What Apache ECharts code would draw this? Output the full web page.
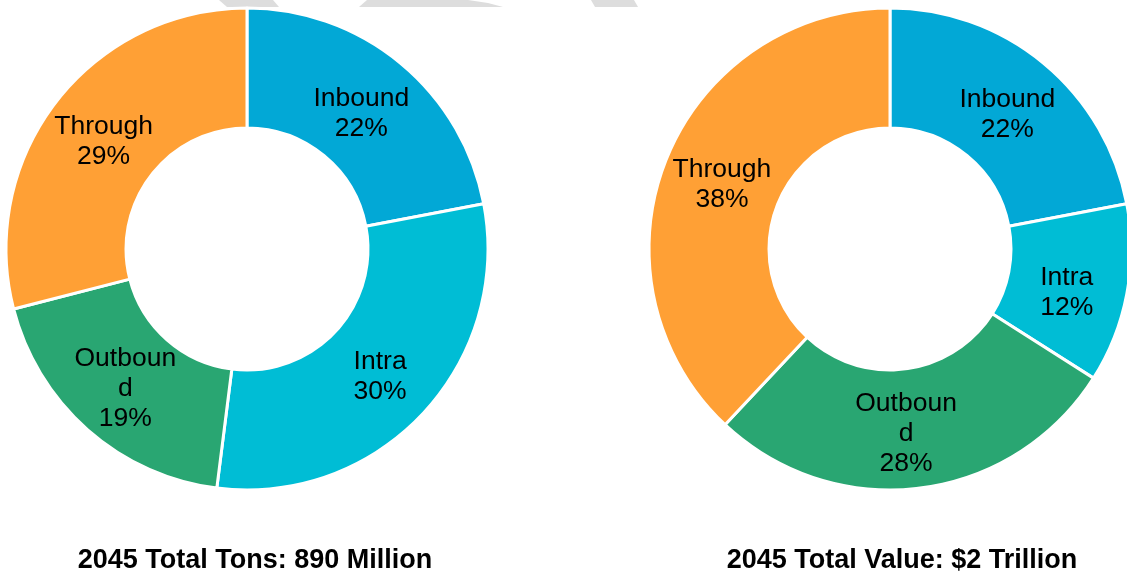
<!DOCTYPE html>
<html>
<head>
<meta charset="utf-8">
<title>2045 Freight Flows</title>
<script src="https://cdn.jsdelivr.net/npm/echarts@6/dist/echarts.min.js"></script>
<style>
  html, body { margin: 0; padding: 0; background: #ffffff; }
  #chart { width: 1127px; height: 574px; }
</style>
</head>
<body>
<div id="chart"></div>
<script>
// Flow categories and their shares (%) for the two 2045 rings
const categories = ['Inbound', 'Intra', 'Outbound', 'Through'];
const tonsShare = [22, 30, 19, 29];
const valueShare = [22, 12, 28, 38];
const titles = ['2045 Total Tons: 890 Million', '2045 Total Value: $2 Trillion'];
const colors = ['#02A8D6', '#00BDD5', '#29A672', '#FFA035'];

// small per-slice label nudges [dx, dy] for each ring
const tonsLabelNudge = [[-3, 6], [-1, 2], [0, 2], [2, 5]];
const valueLabelNudge = [[0, 7], [-4, 9], [-7, 2], [3, 3]];

const FONT = '"Liberation Sans", Arial, sans-serif';

function ringSeries(values, nudges, cx) {
  return {
    type: 'pie',
    center: [cx, 249],
    radius: [121, 241],
    startAngle: 90,
    clockwise: true,
    silent: true,
    avoidLabelOverlap: false,
    itemStyle: { borderColor: '#ffffff', borderWidth: 3 },
    label: {
      show: true,
      position: 'inside',
      formatter: p => p.name + '\n' + p.value + '%',
      color: '#000000',
      fontFamily: FONT,
      fontSize: 26.5,
      lineHeight: 30,
      width: 108,
      overflow: 'breakAll',
      align: 'center'
    },
    labelLine: { show: false },
    emphasis: { disabled: true },
    data: categories.map((c, i) => ({
      name: c,
      value: values[i],
      itemStyle: { color: colors[i] },
      label: { offset: nudges[i] }
    }))
  };
}

const chart = echarts.init(document.getElementById('chart'), null, { renderer: 'canvas' });
const titleStyle = { fontFamily: FONT, fontSize: 27, fontWeight: 'bold', color: '#000' };
chart.setOption({
  animation: false,
  backgroundColor: '#ffffff',
  title: [
    { text: titles[0], left: 250, top: 542, textAlign: 'center', textStyle: titleStyle },
    { text: titles[1], left: 897, top: 542, textAlign: 'center', textStyle: titleStyle }
  ],
  graphic: [
    // faint grey shapes along the top edge
    { type: 'polygon', shape: { points: [[219, 0], [273, 0], [279, 7], [227, 7]] }, style: { fill: '#DDDDDD' }, silent: true },
    { type: 'polygon', shape: { points: [[367, 0], [468, 0], [488, 3], [503, 7], [359, 7]] }, style: { fill: '#DDDDDD' }, silent: true },
    { type: 'polygon', shape: { points: [[591, 0], [634, 0], [638, 7], [595, 7]] }, style: { fill: '#DDDDDD' }, silent: true }
  ],
  series: [ringSeries(tonsShare, tonsLabelNudge, 247), ringSeries(valueShare, valueLabelNudge, 890)]
});
</script>
</body>
</html>
